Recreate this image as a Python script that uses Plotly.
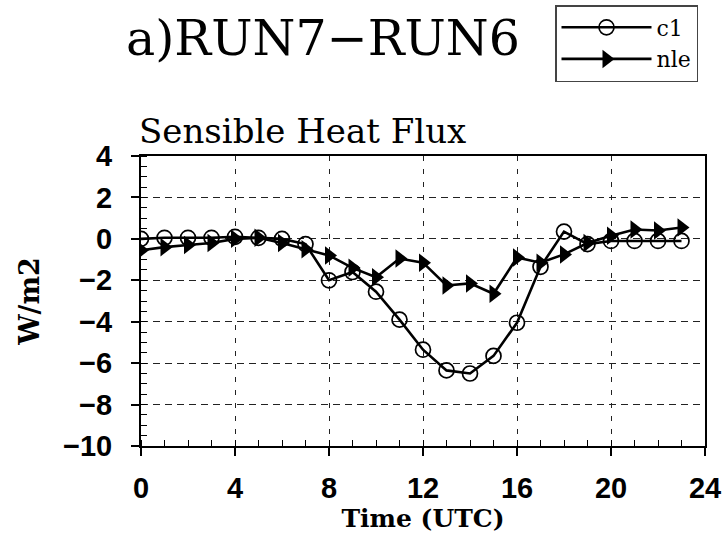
import plotly.graph_objects as go

hours = list(range(24))
c1 = [0.0, 0.05, 0.05, 0.05, 0.1, 0.05, 0.0, -0.25, -2.0, -1.6, -2.55, -3.9,
      -5.35, -6.35, -6.5, -5.65, -4.05, -1.35, 0.35, -0.25, -0.1, -0.1, -0.1, -0.1]
nle = [-0.55, -0.4, -0.3, -0.2, 0.0, 0.05, -0.2, -0.5, -0.8, -1.4, -1.85, -0.95,
       -1.15, -2.25, -2.15, -2.65, -0.9, -1.15, -0.75, -0.2, 0.15, 0.45, 0.4, 0.55]
x_ticks = [0, 4, 8, 12, 16, 20, 24]
y_ticks = [4, 2, 0, -2, -4, -6, -8, -10]

W, H = 724, 539
L, R, T, B = 141, 19, 156, 93
PW, PH = W - L - R, H - T - B

fig = go.Figure()
fig.add_trace(go.Scatter(
    x=hours, y=c1, name="c1", mode="lines+markers",
    line=dict(color="black", width=2.6),
    marker=dict(symbol="circle-open", size=15, color="black", line=dict(width=1.7)),
))
fig.add_trace(go.Scatter(
    x=hours, y=nle, name="nle", mode="lines+markers",
    line=dict(color="black", width=2.6),
    marker=dict(symbol="triangle-right", size=16, color="black"),
))

serif = "DejaVu Serif"
tickfont = dict(family="Liberation Sans", size=29, color="black", weight="bold")
fig.update_layout(
    width=W, height=H,
    margin=dict(l=L, r=R, t=T, b=B, autoexpand=False),
    paper_bgcolor="white", plot_bgcolor="white",
    font=dict(family=serif, color="black"),
    showlegend=True,
    legend=dict(
        x=(555 - L) / PW, y=1 + (T - 5) / PH, xanchor="left", yanchor="top",
        bordercolor="#444", borderwidth=1.5, bgcolor="white",
        font=dict(family=serif, size=22, color="black"),
        itemwidth=90, tracegroupgap=0, itemsizing="trace",
    ),
    xaxis=dict(
        range=[0, 24], tickvals=x_ticks, ticktext=[str(v) for v in x_ticks],
        automargin=False,
        showgrid=True, gridcolor="#222", gridwidth=1, griddash="5px,8px",
        showline=True, linecolor="black", linewidth=2, mirror=True,
        ticks="outside", ticklen=8, tickwidth=2, tickcolor="black",
        ticklabelstandoff=7,
        minor=dict(dtick=1, ticks="inside", ticklen=6, tickwidth=1, tickcolor="black", showgrid=False),
        tickfont=tickfont,
        zeroline=False,
        title=dict(text="Time (UTC)", font=dict(family=serif, size=25, weight="bold"), standoff=6),
    ),
    yaxis=dict(
        range=[-10, 4], tickvals=y_ticks, ticktext=[str(v).replace("-", "\u2212") for v in y_ticks],
        automargin=False,
        showgrid=True, gridcolor="#222", gridwidth=1, griddash="7px,5px",
        showline=True, linecolor="black", linewidth=2, mirror=True,
        ticks="outside", ticklen=8, tickwidth=2, tickcolor="black",
        ticklabelstandoff=13,
        minor=dict(dtick=0.5, ticks="inside", ticklen=6, tickwidth=1, tickcolor="black", showgrid=False),
        tickfont=tickfont,
        zeroline=False,
        title=dict(text="W/m2", font=dict(family=serif, size=27, weight="bold"), standoff=16),
    ),
    annotations=[
        dict(text="a)RUN7\u2212RUN6", x=(323 - L) / PW, y=1 + (T - 38) / PH,
             xref="paper", yref="paper", xanchor="center", yanchor="middle",
             showarrow=False, font=dict(family=serif, size=49, color="black")),
        dict(text="Sensible Heat Flux", x=(137 - L) / PW, y=1 + (T - 131) / PH,
             xref="paper", yref="paper", xanchor="left", yanchor="middle",
             showarrow=False, font=dict(family=serif, size=34, color="black")),
    ],
)
fig.write_html("out.html")
